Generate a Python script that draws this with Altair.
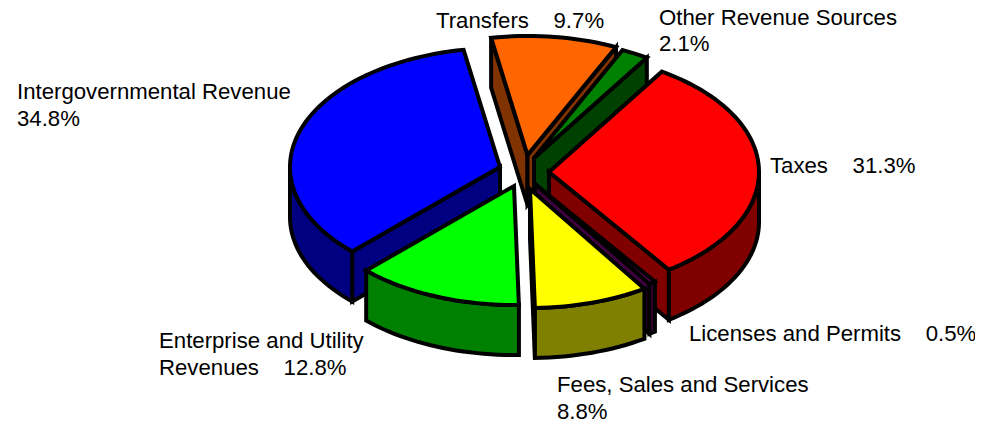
import math
import altair as alt
import pandas as pd

# ---- data
names = ["Taxes", "Licenses and Permits", "Fees, Sales and Services",
         "Enterprise and Utility Revenues", "Intergovernmental Revenue",
         "Transfers", "Other Revenue Sources"]
shares = [31.3, 0.5, 8.8, 12.8, 34.8, 9.7, 2.1]

# ---- styles and layout
top_colors = ["#FF0000", "#800080", "#FFFF00", "#00FF00", "#0000FF", "#FF6600", "#008000"]
wall_colors = ["#800000", "#400040", "#808000", "#008000", "#000080", "#803300", "#004000"]
centers = [(549, 172), (535, 184), (530, 189), (514, 186), (500, 167), (527.5, 155), (534, 158)]
START = -57.5
RX, RY, DEPTH = 210, 119, 50
STROKE = 4
draw_order = [5, 6, 4, 0, 1, 2, 3]

label_rows = [
    ("Transfers\u00a0\u00a0\u00a0\u00a09.7%", 436, 21),
    ("Other Revenue Sources", 659, 18),
    ("2.1%", 659, 44),
    ("Intergovernmental Revenue", 17, 92),
    ("34.8%", 17, 119),
    ("Taxes\u00a0\u00a0\u00a0\u00a031.3%", 770, 166),
    ("Licenses and Permits\u00a0\u00a0\u00a0\u00a00.5%", 689, 334),
    ("Fees, Sales and Services", 557, 385),
    ("8.8%", 557, 412),
    ("Enterprise and Utility", 159, 341),
    ("Revenues\u00a0\u00a0\u00a0\u00a012.8%", 159, 368),
]

total = sum(shares)
x_scale = alt.Scale(domain=[8, 975], range=[0, 967], nice=False, zero=False)
y_scale = alt.Scale(domain=[8, 423], range=[0, 415], nice=False, zero=False)


def pt(c, deg, dz=0.0):
    t = math.radians(deg)
    return (c[0] + RX * math.cos(t), c[1] + RY * math.sin(t) + dz)


def arc(c, a, b, dz=0.0):
    n = max(2, int(abs(b - a) / 2) + 2)
    return [pt(c, a + (b - a) * k / (n - 1), dz) for k in range(n)]


def polygon(points, fill):
    df = pd.DataFrame(points + points[:2], columns=["x", "y"])
    df["i"] = range(len(df))
    return alt.Chart(df).mark_line(
        fill=fill, stroke="black", strokeWidth=STROKE, strokeJoin="miter",
        strokeMiterLimit=3, clip=False,
    ).encode(
        x=alt.X("x:Q", scale=x_scale, axis=None),
        y=alt.Y("y:Q", scale=y_scale, axis=None),
        order=alt.Order("i:Q"),
    )


# slice angular extents follow from the shares
angles = []
cur = START
for s in shares:
    angles.append((cur, cur + 360 * s / total))
    cur += 360 * s / total

layers = []
for idx in draw_order:
    a, b = angles[idx]
    c = centers[idx]
    top = top_colors[idx]
    wall = wall_colors[idx]
    apex = (c[0], c[1])
    apex_d = (c[0], c[1] + DEPTH)
    # side walls that face the viewer
    if math.cos(math.radians(a)) < 0:
        layers.append(polygon([apex, pt(c, a), pt(c, a, DEPTH), apex_d], wall))
    if math.cos(math.radians(b)) > 0:
        layers.append(polygon([apex, pt(c, b), pt(c, b, DEPTH), apex_d], wall))
    # outer wall: the part of the rim that faces the viewer (0..180 deg)
    lo, hi = max(a, 0), min(b, 180)
    if hi > lo:
        layers.append(polygon(arc(c, lo, hi) + arc(c, hi, lo, DEPTH), wall))
    # top face
    layers.append(polygon([apex] + arc(c, a, b), top))

labels = alt.Chart(pd.DataFrame(label_rows, columns=["text", "x", "y"])).mark_text(
    align="left", baseline="middle", font="Liberation Sans", fontSize=22.2, color="black"
).encode(
    x=alt.X("x:Q", scale=x_scale, axis=None),
    y=alt.Y("y:Q", scale=y_scale, axis=None),
    text="text:N",
)

chart = alt.layer(*layers, labels).properties(
    width=967, height=415, padding=0, autosize=alt.AutoSizeParams(type="none")
).configure_view(stroke=None)

chart.save("out.html", embed_options={"renderer": "svg", "actions": False})
